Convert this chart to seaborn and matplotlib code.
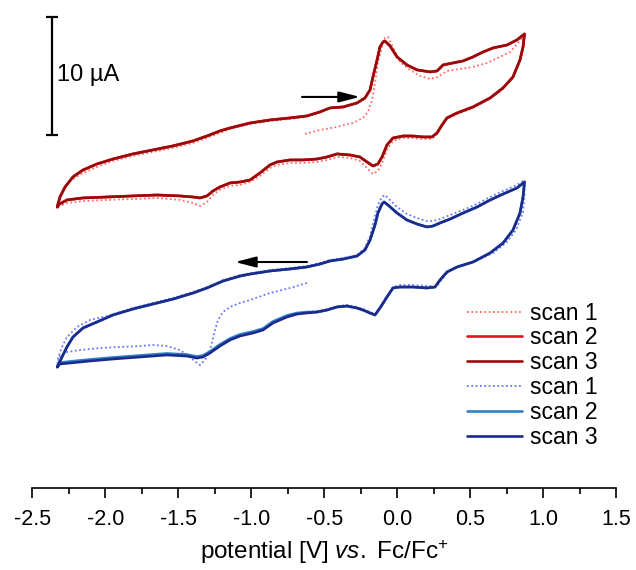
import numpy as np
import pandas as pd
import matplotlib
matplotlib.use("Agg")
import matplotlib.pyplot as plt
import seaborn as sns

# ---------------------------------------------------------------------------
# Cyclic voltammograms (potential in V vs. Fc/Fc+, current in uA)
# ---------------------------------------------------------------------------

# Red compound, scans 2 and 3 (closed loop: upper branch left->right, lower branch right->left)
red_scan2_v = [-2.33, -2.312, -2.277, -2.223, -2.154, -2.058, -1.949, -1.812, -1.675, -1.538,
               -1.401, -1.305, -1.216, -1.147, -1.010, -0.873, -0.736, -0.620, -0.531, -0.462,
               -0.373, -0.277, -0.223, -0.188, -0.168, -0.140, -0.120, -0.099, -0.086, -0.051,
               -0.003, 0.065, 0.134, 0.223, 0.271, 0.312, 0.380, 0.449, 0.517, 0.586,
               0.654, 0.750, 0.818, 0.87,
               0.860, 0.839, 0.791, 0.723, 0.634, 0.517, 0.408, 0.339, 0.305, 0.271,
               0.236, 0.175, 0.106, 0.038, -0.031, -0.072, -0.106, -0.134, -0.168, -0.209,
               -0.257, -0.325, -0.414, -0.483, -0.551, -0.647, -0.736, -0.825, -0.873, -0.942,
               -1.010, -1.079, -1.147, -1.216, -1.264, -1.305, -1.353, -1.401, -1.490, -1.647,
               -1.812, -1.990, -2.154, -2.264, -2.325, -2.33]
red_scan2_i = [-5.25, -4.41, -3.56, -2.71, -2.12, -1.61, -1.19, -0.76, -0.42, -0.08,
               0.34, 0.76, 1.19, 1.44, 1.86, 2.12, 2.29, 2.46, 2.80, 3.14,
               3.22, 3.56, 3.98, 4.66, 5.76, 7.20, 8.31, 8.73, 8.81, 8.39,
               7.46, 6.78, 6.36, 6.19, 6.27, 6.78, 6.95, 7.12, 7.46, 7.88,
               8.22, 8.47, 8.90, 9.41,
               8.31, 7.20, 5.76, 4.83, 3.98, 3.22, 2.71, 2.29, 1.69, 1.02,
               0.68, 0.68, 0.76, 0.76, 0.59, 0.00, -1.02, -1.61, -1.78, -1.44,
               -1.02, -0.85, -0.76, -1.02, -1.19, -1.27, -1.27, -1.44, -1.69, -2.37,
               -2.97, -3.14, -3.22, -3.56, -3.90, -4.32, -4.49, -4.41, -4.32, -4.24,
               -4.32, -4.41, -4.49, -4.66, -5.08, -5.25]
# scan 3 retraces scan 2
red_scan3_v = list(red_scan2_v)
red_scan3_i = list(red_scan2_i)

# Red compound, scan 1 (starts at -0.63 V, anodic first)
red_scan1_v = [-0.634, -0.531, -0.414, -0.305, -0.236, -0.202, -0.175, -0.154, -0.134, -0.106,
               -0.086, -0.065, -0.038, 0.017, 0.086, 0.154, 0.223, 0.277, 0.339, 0.428,
               0.517, 0.613, 0.702, 0.771, 0.825, 0.87,
               0.860, 0.839, 0.791, 0.723, 0.634, 0.517, 0.408, 0.339, 0.305, 0.271,
               0.236, 0.175, 0.106, 0.038, -0.031, -0.072, -0.106, -0.134, -0.168, -0.209,
               -0.257, -0.325, -0.414, -0.483, -0.551, -0.647, -0.736, -0.825, -0.873, -0.942,
               -1.010, -1.079, -1.147, -1.216, -1.264, -1.305, -1.353, -1.401, -1.490, -1.647,
               -1.812, -1.990, -2.154, -2.264, -2.325, -2.33,
               -2.318, -2.291, -2.243, -2.154, -2.058, -1.949, -1.812, -1.675, -1.538, -1.401,
               -1.305, -1.216, -1.147, -1.010, -0.873, -0.736, -0.634]
red_scan1_i = [0.93, 1.27, 1.53, 1.86, 2.29, 2.80, 3.81, 5.25, 6.95, 8.31,
               9.07, 9.15, 8.47, 7.03, 6.36, 5.85, 5.59, 5.76, 6.27, 6.44,
               6.61, 6.95, 7.46, 7.88, 8.64, 9.32,
               8.22, 7.12, 5.68, 4.75, 3.90, 3.14, 2.63, 2.20, 1.61, 0.93,
               0.51, 0.51, 0.59, 0.59, 0.34, -0.42, -1.53, -2.20, -2.46, -1.95,
               -1.36, -1.10, -1.02, -1.27, -1.44, -1.53, -1.53, -1.69, -1.95, -2.63,
               -3.14, -3.39, -3.47, -3.81, -4.24, -4.83, -5.17, -4.92, -4.66, -4.49,
               -4.58, -4.66, -4.75, -4.92, -5.25, -5.42,
               -4.66, -3.90, -3.05, -2.37, -1.86, -1.36, -0.93, -0.59, -0.25, 0.17,
               0.59, 1.02, 1.36, 1.78, 2.03, 2.20, 2.37]

# Blue compound, scan 3 (closed loop)
blue_scan3_v = [-2.33, -2.298, -2.264, -2.223, -2.154, -2.058, -1.949, -1.812, -1.675, -1.538,
                -1.401, -1.305, -1.195, -1.079, -1.010, -0.873, -0.736, -0.620, -0.531, -0.462,
                -0.373, -0.277, -0.223, -0.188, -0.154, -0.134, -0.106, -0.092, -0.065, -0.003,
                0.065, 0.134, 0.202, 0.243, 0.291, 0.360, 0.449, 0.545, 0.634, 0.723,
                0.818, 0.87,
                0.860, 0.839, 0.791, 0.723, 0.634, 0.517, 0.408, 0.339, 0.291, 0.257,
                0.202, 0.106, 0.017, -0.031, -0.072, -0.120, -0.154, -0.188, -0.236, -0.277,
                -0.346, -0.414, -0.483, -0.551, -0.620, -0.688, -0.757, -0.853, -0.921, -0.990,
                -1.079, -1.147, -1.216, -1.284, -1.332, -1.373, -1.442, -1.579, -1.764, -1.949,
                -2.106, -2.243, -2.312, -2.33]
blue_scan3_i = [-5.68, -4.83, -3.98, -3.14, -2.37, -1.86, -1.27, -0.76, -0.34, 0.08,
                0.59, 1.02, 1.61, 2.03, 2.20, 2.46, 2.63, 2.80, 3.05, 3.31,
                3.47, 3.73, 4.24, 5.08, 6.36, 7.37, 8.14, 8.31, 8.05, 7.37,
                6.78, 6.44, 6.19, 6.27, 6.53, 6.86, 7.37, 7.88, 8.47, 8.98,
                9.49, 10.00,
                8.73, 7.37, 5.93, 4.83, 3.98, 3.22, 2.80, 2.37, 1.69, 1.10,
                1.02, 1.10, 1.10, 1.02, 0.25, -0.68, -1.27, -1.10, -0.85, -0.68,
                -0.51, -0.59, -0.85, -1.02, -1.10, -1.19, -1.44, -1.95, -2.54, -2.80,
                -3.05, -3.39, -3.90, -4.49, -4.83, -4.92, -4.75, -4.66, -4.83, -5.00,
                -5.17, -5.34, -5.42, -5.68]

# Blue compound, scan 2 (sits slightly above scan 3 on the cathodic branch below -0.6 V)
blue_scan2_v = list(blue_scan3_v)
blue_scan2_i = [-5.68, -4.83, -3.98, -3.14, -2.37, -1.86, -1.27, -0.76, -0.34, 0.08,
                0.59, 1.02, 1.61, 2.03, 2.20, 2.46, 2.63, 2.80, 3.05, 3.31,
                3.47, 3.73, 4.24, 5.08, 6.36, 7.37, 8.14, 8.31, 8.05, 7.37,
                6.78, 6.44, 6.19, 6.27, 6.53, 6.86, 7.37, 7.88, 8.47, 8.98,
                9.49, 10.00,
                8.73, 7.37, 5.93, 4.83, 3.98, 3.22, 2.80, 2.37, 1.69, 1.10,
                1.02, 1.10, 1.10, 1.02, 0.25, -0.68, -1.27, -1.10, -0.85, -0.68,
                -0.51, -0.59, -0.85, -1.02, -1.02, -1.10, -1.31, -1.82, -2.42, -2.67,
                -2.92, -3.26, -3.77, -4.36, -4.70, -4.79, -4.62, -4.53, -4.70, -4.87,
                -5.04, -5.21, -5.30, -5.59]

# Blue compound, scan 1 (starts at -0.62 V, cathodic first)
blue_scan1_v = [-0.620, -0.736, -0.873, -1.010, -1.079, -1.147, -1.195, -1.229, -1.250, -1.284,
                -1.318, -1.353, -1.373, -1.421, -1.490, -1.579, -1.675, -1.764, -1.901, -2.038,
                -2.175, -2.264, -2.312, -2.33,
                -2.325, -2.298, -2.264, -2.195, -2.106, -1.990, -1.812, -1.675, -1.538, -1.401,
                -1.305, -1.195, -1.079, -0.873, -0.736, -0.620, -0.531, -0.462, -0.373, -0.277,
                -0.223, -0.188, -0.161, -0.134, -0.106, -0.086, -0.058, -0.003, 0.065, 0.134,
                0.202, 0.243, 0.291, 0.360, 0.449, 0.545, 0.634, 0.723, 0.818, 0.87,
                0.87, 0.860, 0.812, 0.743, 0.654, 0.538, 0.428, 0.353, 0.305, 0.271,
                0.202, 0.106, 0.017, -0.031, -0.072, -0.120, -0.154, -0.188, -0.236, -0.277,
                -0.346, -0.414, -0.483, -0.551, -0.620]
blue_scan1_i = [1.44, 1.02, 0.59, 0.00, -0.25, -0.59, -1.02, -1.69, -2.54, -4.24,
                -5.08, -5.51, -5.34, -4.83, -4.24, -3.90, -3.81, -3.90, -3.98, -4.07,
                -4.24, -4.41, -4.75, -5.59,
                -4.92, -3.98, -3.14, -2.29, -1.69, -1.36, -0.68, -0.25, 0.17, 0.68,
                1.10, 1.69, 2.12, 2.54, 2.71, 2.88, 3.14, 3.39, 3.56, 3.81,
                4.41, 5.42, 6.78, 8.05, 8.73, 8.90, 8.56, 7.88, 7.29, 6.95,
                6.69, 6.69, 6.86, 7.20, 7.63, 8.14, 8.73, 9.24, 9.75, 10.17,
                8.90, 7.46, 5.93, 4.83, 3.98, 3.31, 2.88, 2.46, 1.78, 1.19,
                1.19, 1.27, 1.27, 1.10, 0.34, -0.59, -1.19, -1.02, -0.76, -0.59,
                -0.42, -0.51, -0.76, -0.93, -1.02]

legend_labels = ["scan 1", "scan 2", "scan 3", "scan 1", "scan 2", "scan 3"]
tick_values = [-2.5, -2.0, -1.5, -1.0, -0.5, 0.0, 0.5, 1.0, 1.5]
tick_labels = ["-2.5", "-2.0", "-1.5", "-1.0", "-0.5", "0.0", "0.5", "1.0", "1.5"]
scale_bar_ua = 10

# vertical stacking of the two voltammograms (uA)
red_shift = 29.07
blue_shift = 15.93

# ---------------------------------------------------------------------------
sns.set_theme(style="ticks")
plt.rcParams["font.family"] = ["Liberation Sans", "DejaVu Sans"]
plt.rcParams["mathtext.fontset"] = "custom"
plt.rcParams["mathtext.rm"] = "Liberation Sans"
plt.rcParams["mathtext.it"] = "Liberation Sans:italic"
plt.rcParams["text.color"] = "black"
plt.rcParams["axes.labelcolor"] = "black"
plt.rcParams["xtick.color"] = "black"
plt.rcParams["xtick.labelcolor"] = "black"

fig = plt.figure(figsize=(6.36, 5.70), dpi=100)
ax = fig.add_axes([0.0511, 0.1439, 0.9182, 0.8386])

curves = [
    (red_scan1_v, red_scan1_i, red_shift, "#ff6b6b", (0, (1, 1.4)), 1.3),
    (red_scan2_v, red_scan2_i, red_shift, "#e0141e", "-", 1.9),
    (red_scan3_v, red_scan3_i, red_shift, "#9b0a0a", "-", 1.9),
    (blue_scan1_v, blue_scan1_i, blue_shift, "#6477ff", (0, (1, 1.4)), 1.3),
    (blue_scan2_v, blue_scan2_i, blue_shift, "#2f80c8", "-", 1.9),
    (blue_scan3_v, blue_scan3_i, blue_shift, "#1c2a8c", "-", 1.9),
]

handles = []
for (v, i, shift, color, ls, lw), lab in zip(curves, legend_labels):
    df = pd.DataFrame({"potential": v, "current": np.asarray(i) + shift})
    sns.lineplot(data=df, x="potential", y="current", sort=False, estimator=None,
                 color=color, linewidth=lw, linestyle=ls, ax=ax)
    handles.append(plt.Line2D([], [], color=color, linewidth=lw, linestyle=ls, label=lab))

# scan direction arrows
arrow_style = "-|>,head_length=0.7,head_width=0.18"
ax.annotate("", xy=(-0.257, 33.14), xytext=(-0.654, 33.14),
            arrowprops=dict(arrowstyle=arrow_style, color="black", lw=1.5,
                            mutation_scale=18, shrinkA=0, shrinkB=0))
ax.annotate("", xy=(-1.113, 19.15), xytext=(-0.620, 19.15),
            arrowprops=dict(arrowstyle=arrow_style, color="black", lw=1.5,
                            mutation_scale=18, shrinkA=0, shrinkB=0))

# 10 uA scale bar
ax.errorbar([-2.366], [34.9], yerr=[scale_bar_ua / 2], color="black", elinewidth=1.6,
            capsize=4.5, capthick=1.6, fmt="none")
ax.text(-2.33, 35.0, "10 µA", fontsize=17, va="center", ha="left", color="black")

ax.set_xlim(-2.5, 1.5)
ax.set_ylim(0, 40.51)
ax.set_xticks(tick_values)
ax.set_xticklabels(tick_labels, fontsize=15.5, color="black")
ax.set_xticks(np.arange(-2.25, 1.5, 0.5), minor=True)
ax.tick_params(axis="x", which="major", direction="out", length=7, width=1.2, pad=8, color="black")
ax.tick_params(axis="x", which="minor", direction="out", length=4, width=1.2, color="black")
ax.set_yticks([])
ax.set_ylabel("")
for side in ("left", "right", "top"):
    ax.spines[side].set_visible(False)
ax.spines["bottom"].set_linewidth(1.2)
ax.spines["bottom"].set_color("black")
ax.set_xlabel(r"potential [V] $\mathit{vs.\ }$Fc/Fc$^{+}$", fontsize=17.5, labelpad=6,
              color="black")

leg = ax.legend(handles=handles, loc="upper left", bbox_to_anchor=(0.716, 0.491),
                bbox_transform=fig.transFigure, frameon=False, fontsize=16.5,
                handlelength=2.4, handletextpad=0.35, labelspacing=0.08, borderpad=0)
for t in leg.get_texts():
    t.set_color("black")

fig.savefig("out.png", dpi=100)
